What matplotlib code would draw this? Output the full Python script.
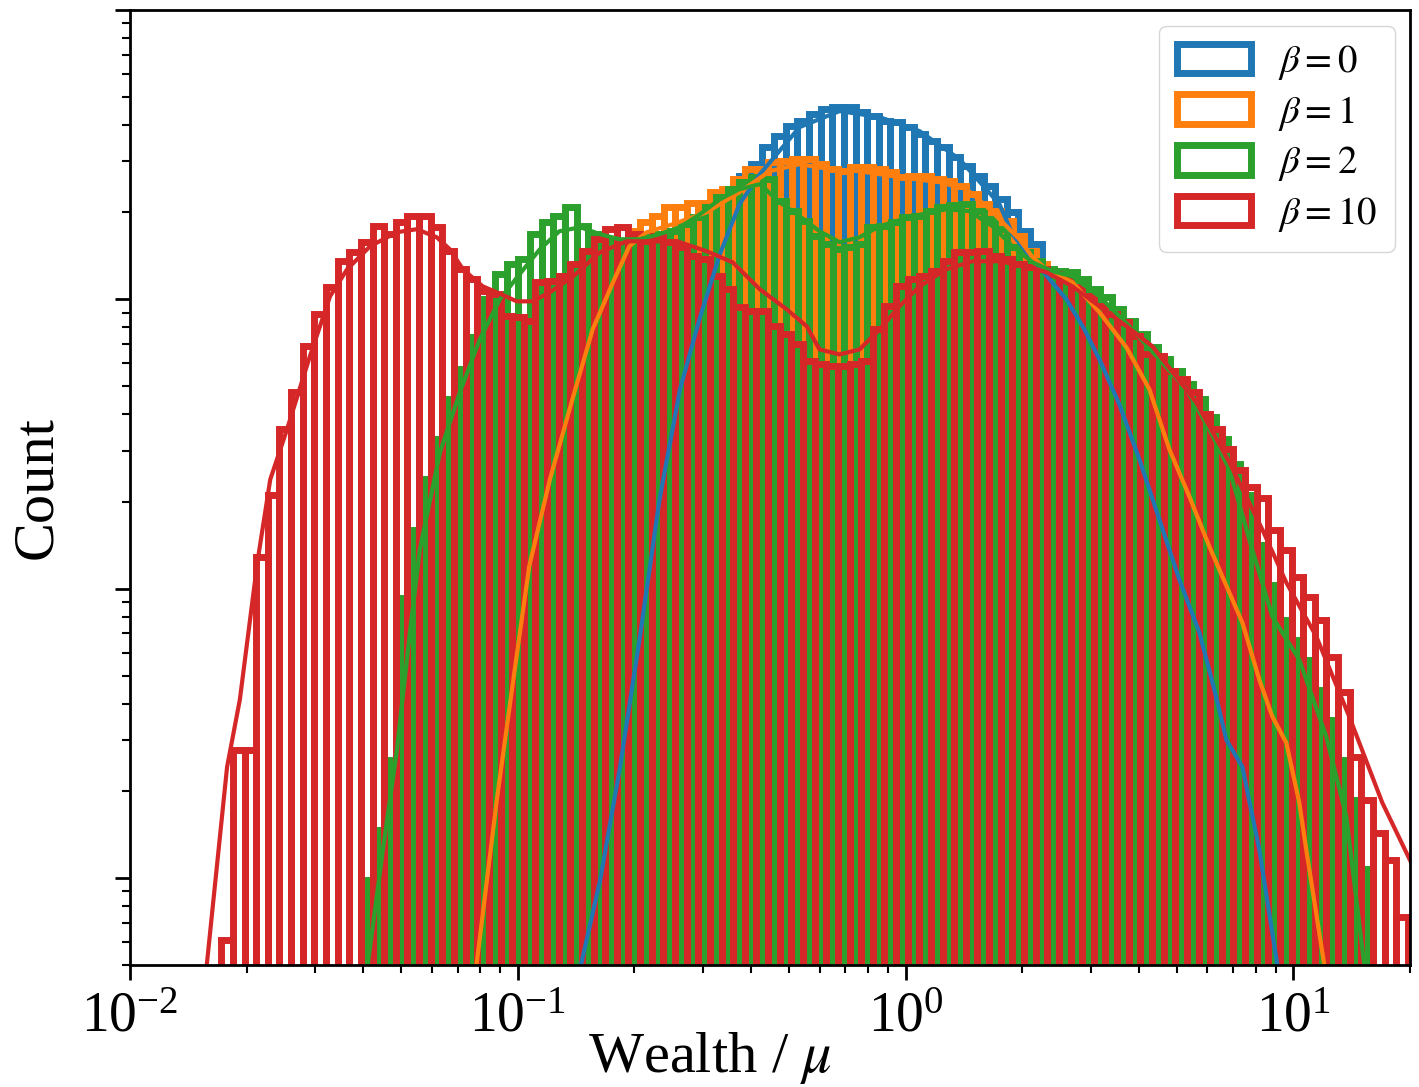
import numpy as np
import matplotlib
matplotlib.use("Agg")
import matplotlib.pyplot as plt
from matplotlib.patches import Patch

plt.rcParams['font.family'] = 'serif'
plt.rcParams['font.serif'] = ['Liberation Serif', 'DejaVu Serif']
plt.rcParams['mathtext.fontset'] = 'stix'

# histogram bins: width in log10 units, first bin edge of each series
LOG_BIN_WIDTH = 0.03
labels = ['$\\beta=0$', '$\\beta=1$', '$\\beta=2$', '$\\beta=10$']
colors = ['#1f77b4', '#ff7f0e', '#2ca02c', '#d62728']
bin_start = [0.1416, 0.0787, 0.0409, 0.0172]

# counts per bin
counts_b0 = [55, 90, 147, 236, 413, 781, 1478, 2582, 4160, 6200,
             8660, 11730, 15500, 20480, 26640, 29310, 33570, 36650, 39700, 41300,
             43650, 45440, 46170, 46170, 44360, 42980, 41300, 40990, 39370, 37240,
             35220, 33570, 30990, 28850, 26640, 24610, 22180, 19990, 17190, 15500,
             11910, 10660, 9230, 8000, 6610, 5630, 4510, 3550, 2686, 2032,
             1538, 1163, 880, 705, 484, 338, 266, 218, 135, 84,
             56]
counts_b1 = [72, 125, 236, 447, 916, 1733, 2795, 4160, 5960, 7870,
             10000, 12200, 14890, 17190, 18470, 19370, 20810, 20810, 21490, 21490,
             23450, 24020, 26010, 28180, 28180, 29790, 30030, 30500, 30500, 29310,
             28180, 27720, 28620, 28620, 28180, 27510, 26430, 26640, 26640, 26010,
             25600, 24610, 23080, 21320, 20160, 18620, 16520, 14660, 13220, 12500,
             11730, 10660, 9380, 8390, 7450, 6450, 5500, 4510, 3694, 3030,
             2290, 1803, 1420, 1118, 916, 750, 568, 413, 352, 288,
             186, 115, 66]
counts_b2 = [98, 147, 256, 931, 1600, 2384, 3280, 4510, 5730, 7390,
             10000, 12200, 13220, 13750, 16790, 18470, 19370, 20810, 17890, 16790,
             16130, 15870, 15750, 16130, 16390, 16790, 17190, 18180, 19210, 20810,
             22540, 24020, 25400, 26430, 26010, 21840, 20160, 18620, 16520, 15500,
             14890, 15130, 15500, 17750, 17890, 18470, 19210, 19370, 20160, 20810,
             21150, 21320, 20160, 18900, 17470, 15130, 14540, 13540, 12700, 12500,
             12400, 11730, 10830, 10160, 9230, 8390, 7570, 6820, 6200, 5630,
             5080, 4510, 3906, 3280, 2686, 2110, 1420, 1032, 781, 666,
             568, 447, 352, 256, 186, 107]
counts_b10 = [61, 277, 277, 1290, 2110, 3550, 4770, 6880, 8870, 11000,
              13540, 14540, 15750, 17890, 16790, 18470, 19370, 19370, 17750, 14660,
              12700, 11730, 10660, 10410, 8730, 8660, 8390, 11450, 11540, 12010,
              13220, 14660, 16130, 17470, 17750, 16790, 15870, 16520, 15750, 15130,
              14090, 13750, 12010, 10830, 9380, 9090, 9090, 8070, 7570, 6990,
              6100, 5960, 5870, 5870, 5960, 6100, 7870, 9460, 11090, 11730,
              12010, 12500, 13540, 14540, 14540, 14660, 14090, 13750, 13220, 12900,
              12700, 12200, 11730, 11000, 10240, 9460, 8870, 8330, 7450, 6450,
              6350, 5630, 5290, 4770, 4000, 3550, 3030, 2580, 2250, 2065,
              1600, 1364, 1100, 938, 781, 582, 440, 262, 186, 143,
              115, 73]

# kde curves (wealth, count)
kde_x_b0 = [0.146, 0.163, 0.183, 0.206, 0.232, 0.262, 0.295, 0.332, 0.373, 0.421,
            0.533, 0.676, 0.857, 1.087, 1.378, 1.747, 1.887, 2.125, 2.350, 2.599,
            2.893, 3.162, 3.560, 4.010, 4.514, 5.084, 5.724, 6.259, 6.720, 7.389,
            8.174, 9.095]
kde_y_b0 = [51, 98, 236, 666, 2032, 4882, 8660, 14310, 21320, 27070,
            39370, 44730, 42640, 38130, 30500, 21320, 16790, 13750, 11730, 10000,
            7870, 6200, 4332, 2795, 1733, 1074, 705, 447, 300, 242,
            125, 50]
kde_x_b1 = [0.0784, 0.0883, 0.0982, 0.107, 0.121, 0.139, 0.156, 0.176, 0.194, 0.215,
            0.251, 0.307, 0.373, 0.446, 0.533, 0.637, 0.761, 0.965, 1.224, 1.437,
            1.617, 1.821, 1.967, 2.125, 2.309, 2.694, 3.162, 3.712, 4.255, 4.790,
            5.395, 6.075, 7.389, 8.174, 8.830, 9.594, 10.36, 10.80, 12.02]
kde_y_b1 = [51, 186, 524, 1192, 2384, 4617, 7870, 11450, 15250, 17060,
            18180, 19990, 23450, 27720, 29310, 28180, 27720, 26430, 25400, 24020,
            20980, 17890, 16130, 13980, 12700, 11450, 9020, 6820, 4882, 3030,
            2080, 1397, 763, 484, 361, 293, 182, 125, 50]
kde_x_b2 = [0.0411, 0.0449, 0.0488, 0.0527, 0.0559, 0.0630, 0.0709, 0.0798, 0.0899, 0.101,
            0.114, 0.128, 0.145, 0.163, 0.183, 0.206, 0.232, 0.262, 0.295, 0.332,
            0.373, 0.421, 0.474, 0.533, 0.600, 0.676, 0.761, 0.857, 1.042, 1.275,
            1.462, 1.676, 1.887, 2.125, 2.393, 2.694, 3.162, 3.778, 4.514, 5.300,
            6.075, 6.842, 7.701, 8.830, 10.36, 12.17, 13.70, 15.24]
kde_y_b2 = [51, 125, 277, 705, 1364, 2955, 4770, 7270, 10000, 12200,
            14890, 17190, 17750, 16790, 16130, 16130, 16790, 17750, 19680, 22180,
            24020, 25000, 21650, 19370, 17190, 15750, 16390, 17890, 19370, 20480,
            20160, 17890, 15250, 13430, 12500, 12010, 10240, 8070, 6200, 4882,
            3550, 2582, 1478, 800, 568, 307, 163, 50]
kde_x_b10 = [0.0158, 0.0178, 0.0192, 0.0213, 0.0230, 0.0254, 0.0291, 0.0328, 0.0363, 0.0416,
             0.0488, 0.0549, 0.0618, 0.0668, 0.0722, 0.0812, 0.0883, 0.0994, 0.109, 0.121,
             0.139, 0.163, 0.191, 0.223, 0.262, 0.307, 0.358, 0.421, 0.494, 0.556,
             0.600, 0.676, 0.761, 0.857, 0.965, 1.087, 1.275, 1.488, 1.747, 2.051,
             2.309, 2.694, 3.162, 3.712, 4.330, 5.623, 6.842, 8.320, 9.594, 11.47,
             13.94, 16.96, 22.4]
kde_y_b10 = [51, 242, 413, 1230, 2384, 3550, 6350, 10240, 12700, 15250,
             17060, 17470, 16390, 14890, 12700, 11090, 10570, 9840, 9840, 10570,
             12010, 14540, 15870, 15870, 15750, 14660, 13430, 10830, 9230, 8070,
             6710, 6450, 6710, 7870, 9460, 11090, 12700, 13540, 13540, 13000,
             12400, 11090, 9460, 8070, 6880, 4400, 2730, 1600, 1049, 682,
             361, 182, 84]

all_counts = [counts_b0, counts_b1, counts_b2, counts_b10]
all_kde = [(kde_x_b0, kde_y_b0), (kde_x_b1, kde_y_b1),
           (kde_x_b2, kde_y_b2), (kde_x_b10, kde_y_b10)]

fig = plt.figure(figsize=(14.19, 10.87), dpi=100)
ax = fig.add_axes([0.0916, 0.1122, 0.9021, 0.8786])
ax.set_xscale('log')
ax.set_yscale('log')

# bars: drawn beta=0 first, beta=10 last (on top)
for counts, start, c in zip(all_counts, bin_start, colors):
    lo = np.log10(start) + LOG_BIN_WIDTH * np.arange(len(counts))
    left = 10 ** lo
    right = 10 ** (lo + LOG_BIN_WIDTH)
    ax.bar(left, counts, width=right - left, align='edge', fill=False,
           edgecolor=c, linewidth=5)

for (kx, ky), c in zip(all_kde, colors):
    ax.plot(kx, ky, color=c, linewidth=3)

ax.set_xlim(0.01, 20)
ax.set_ylim(50, 1e5)

ax.set_xlabel('Wealth / $\\mu$', fontsize=42)
ax.set_ylabel('Count', fontsize=42)
ax.xaxis.set_label_coords(0.453, -0.068)
ax.yaxis.set_label_coords(-0.052, 0.5)

ax.tick_params(which='major', length=11, width=2, labelsize=40, pad=8)
ax.tick_params(which='minor', length=6, width=1.5)
ax.tick_params(axis='y', labelleft=False)
for s in ax.spines.values():
    s.set_linewidth(2)

handles = [Patch(facecolor='none', edgecolor=c, linewidth=5) for c in colors]
ax.legend(handles, labels, loc='upper right', fontsize=28,
          handlelength=1.9, handleheight=0.8, labelspacing=0.3,
          borderaxespad=0.4, handletextpad=0.7, borderpad=0.45)

fig.savefig('out.png', dpi=100)
